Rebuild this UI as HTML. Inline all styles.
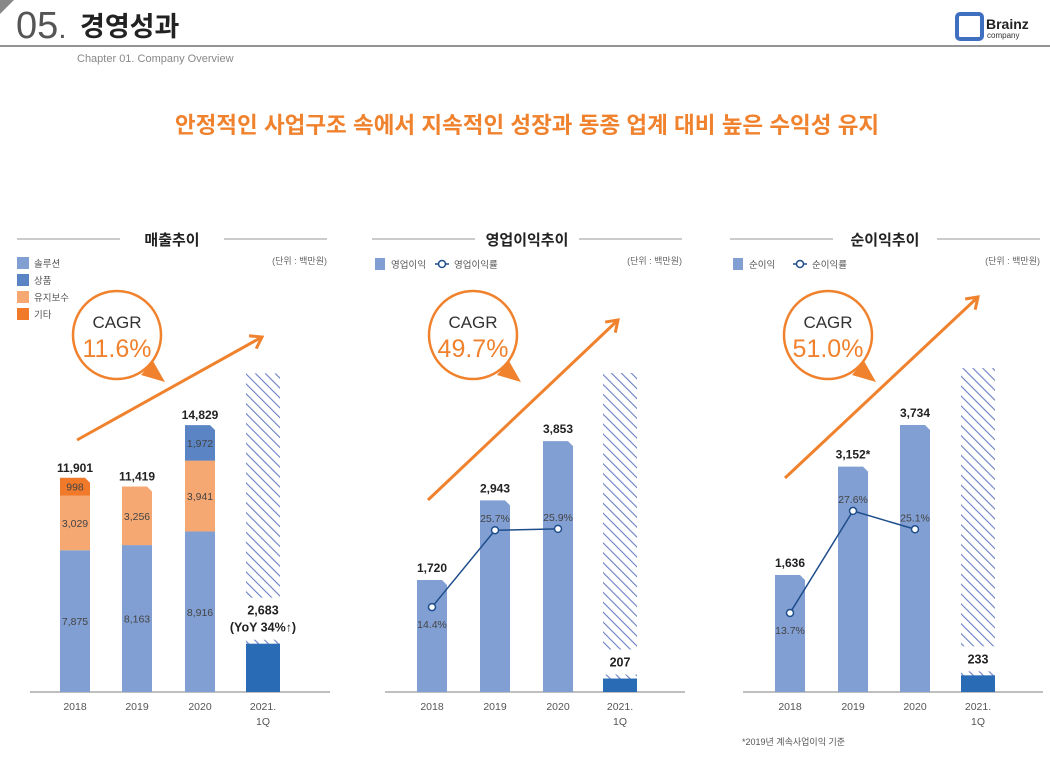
<!DOCTYPE html>
<html><head><meta charset="utf-8">
<style>
body{margin:0;background:#fff;width:1050px;height:762px;overflow:hidden;font-family:"Liberation Sans","Noto Sans CJK KR",sans-serif}
svg text{font-family:"Liberation Sans","Noto Sans CJK KR",sans-serif}
</style></head><body>
<svg id="s" width="1050" height="762" viewBox="0 0 1050 762" xmlns="http://www.w3.org/2000/svg">
<defs>
<pattern id="hatch" width="7" height="7" patternUnits="userSpaceOnUse" patternTransform="rotate(-45)">
<rect width="7" height="7" fill="#fff"/><line x1="0" y1="0" x2="0" y2="7" stroke="#6b7fc4" stroke-width="2.2"/>
</pattern>
</defs>
<polygon points="0,0 14,0 0,14" fill="#888"/>
<text x="16" y="38" font-size="38" fill="#555" font-weight="300">05<tspan font-size="30">.</tspan></text>
<text x="80" y="36" font-size="27" fill="#222" font-weight="bold">경영성과</text>
<line x1="0" y1="46" x2="1050" y2="46" stroke="#555" stroke-width="1.2"/>
<text x="77" y="62" font-size="11" fill="#888">Chapter 01. Company Overview</text>
<g>
<rect x="957" y="14" width="25" height="25" rx="3" fill="none" stroke="#3f6fc0" stroke-width="4"/>
<text x="986" y="29" font-size="14" font-weight="bold" fill="#222">Brainz</text>
<text x="987" y="38" font-size="8" fill="#333">company</text>
</g>
<text x="527" y="133" font-size="22.5" font-weight="bold" fill="#f0822e" text-anchor="middle">안정적인 사업구조 속에서 지속적인 성장과 동종 업계 대비 높은 수익성 유지</text>
<g id="c1"></g>
<g id="c2"></g>
<g id="c3"></g>
<text x="742" y="745" font-size="9" fill="#555">*2019년 계속사업이익 기준</text>
</svg>
<script>
const years=["2018","2019","2020","2021.|1Q"];
const revSolution=[7875,8163,8916];
const revProduct=[0,0,1972];
const revMaint=[3029,3256,3941];
const revOther=[998,0,0];
const revTotals=["11,901","11,419","14,829"];
const rev2021=2683, rev2021Target=17700;
const opProfit=[1720,2943,3853];
const opRate=[14.4,25.7,25.9];
const op2021=207, op2021Target=4900;
const netProfit=[1636,3152,3734];
const netRate=[13.7,27.6,25.1];
const net2021=233, net2021Target=4530;
const netLabels=["1,636","3,152*","3,734"];

const NS="http://www.w3.org/2000/svg";
function mk(p,tag,a,txt){const e=document.createElementNS(NS,tag);for(const k in a)e.setAttribute(k,a[k]);if(txt!==undefined)e.textContent=txt;p.appendChild(e);return e;}
const fmt=v=>v.toLocaleString("en-US");
const BASE=692;
const C_SOL="#819fd3",C_PROD="#5b84c4",C_MAINT="#f6a873",C_OTH="#f07a2a",C_Q="#2a6bb5",OR="#f0822e";

function frame(g,x0,x1,title){
  const cx=(x0+x1)/2;
  let e=mk(g,"line",{x1:x0,y1:239,x2:cx-52,y2:239,stroke:"#bbb","stroke-width":1.5});
  
  e=mk(g,"line",{x1:cx+52,y1:239,x2:x1,y2:239,stroke:"#bbb","stroke-width":1.5});
  
  e=mk(g,"text",{x:cx,y:245,"font-size":15,"font-weight":"bold",fill:"#222","text-anchor":"middle"},title);
  
  e=mk(g,"text",{x:x1,y:264,"font-size":9,fill:"#666","text-anchor":"end"},"(단위 : 백만원)");
  
  e=mk(g,"line",{x1:x0+13,y1:BASE,x2:x1+3,y2:BASE,stroke:"#999","stroke-width":1.2});
  
}
function xlabels(g,xs){
  years.forEach((y,i)=>{const parts=y.split("|");parts.forEach((p,j)=>{
    const e=mk(g,"text",{x:xs[i],y:710+j*15,"font-size":10.5,fill:"#555","text-anchor":"middle"},p);
    });});
}
function cagr(g,cx,cy,val){
  let e=mk(g,"circle",{cx:cx,cy:cy,r:44,fill:"#fff",stroke:OR,"stroke-width":2.5});
  
  e=mk(g,"polygon",{points:`${cx+36},${cy+26} ${cx+48},${cy+47} ${cx+24},${cy+40}`,fill:OR});
  
  e=mk(g,"text",{x:cx,y:cy-7,"font-size":17,fill:"#333","text-anchor":"middle"},"CAGR");
  
  e=mk(g,"text",{x:cx,y:cy+22,"font-size":25,fill:OR,"text-anchor":"middle"},val);
  
}
function arrow(g,x1,y1,x2,y2){
  let e=mk(g,"line",{x1:x1,y1:y1,x2:x2,y2:y2,stroke:OR,"stroke-width":3});
  
  const a=Math.atan2(y2-y1,x2-x1),L=13;
  const p=(d)=>[x2-L*Math.cos(a+d),y2-L*Math.sin(a+d)];
  const [ax,ay]=p(0.6),[bx,by]=p(-0.6);
  e=mk(g,"polyline",{points:`${ax},${ay} ${x2},${y2} ${bx},${by}`,fill:"none",stroke:OR,"stroke-width":3});
  
}
function bar(g,x,w,yTop,yBot,color,name,clip){
  const h=yBot-yTop;let e;
  if(clip){e=mk(g,"path",{d:`M${x},${yBot} V${yTop} H${x+w-5} L${x+w},${yTop+5} V${yBot} Z`,fill:color});}
  else e=mk(g,"rect",{x:x,y:yTop,width:w,height:h,fill:color});
  return e;
}
function q1(g,x,w,val,target,sc,name,labels){
  const yt=BASE-target*sc,yv=BASE-val*sc;
  let e=mk(g,"rect",{x:x,y:yt,width:w,height:BASE-yt,fill:"url(#hatch)"});
  
  const lblTop=yv-8-labels.length*17;
  e=mk(g,"rect",{x:x-8,y:lblTop-4,width:w+16,height:yv-4-lblTop+4,fill:"#fff"});
  
  bar(g,x,w,yv,BASE,C_Q,name,false);
  labels.forEach((t,i)=>{e=mk(g,"text",{x:x+w/2,y:lblTop+13+i*17,"font-size":12.5,"font-weight":"bold",fill:"#222","text-anchor":"middle"},t);
    });
}
function lbl(g,x,y,t,bold,name){const e=mk(g,"text",{x:x,y:y,"font-size":bold?12:10.5,"font-weight":bold?"bold":"normal",fill:bold?"#222":"#444","text-anchor":"middle"},t);
  }

/* Chart 1 */
(function(){
  const g=document.getElementById("c1");frame(g,17,327,"매출추이");
  const leg=[["솔루션",C_SOL],["상품",C_PROD],["유지보수",C_MAINT],["기타",C_OTH]];
  leg.forEach((l,i)=>{let e=mk(g,"rect",{x:17,y:257+i*17,width:12,height:12,fill:l[1]});
    
    e=mk(g,"text",{x:34,y:267+i*17,"font-size":9.5,fill:"#555"},l[0]);
    });
  const sc=0.018,xs=[60,122,185],w=30;
  arrow(g,77,440,262,337);
  cagr(g,117,335,"11.6%");
  xs.forEach((x,i)=>{
    let y=BASE;
    const segs=[[revSolution[i],C_SOL,'bar-solution'],[revMaint[i],C_MAINT,'bar-maintenance'],[revProduct[i],C_PROD,'bar-product'],[revOther[i],C_OTH,'bar-other']].filter(s=>s[0]>0);
    segs.forEach((s,j)=>{const top=y-s[0]*sc;bar(g,x,w,top,y,s[1],s[2]+'-'+years[i],j==segs.length-1);
      lbl(g,x+w/2,(top+y)/2+4,fmt(s[0]),false,'segment-value');y=top;});
    lbl(g,x+w/2,y-6,revTotals[i],true,'total-value');
  });
  q1(g,246,34,rev2021,rev2021Target,sc,'bar-2021-1q',["2,683","(YoY 34%↑)"]);
  xlabels(g,[75,137,200,263]);
})();
function profitChart(id,x0,x1,title,legA,legB,xs,qx,vals,labels,rates,rBase,rSc,v21,t21,sc,cg,cc,ar){
  const g=document.getElementById(id);frame(g,x0,x1,title);
  let e=mk(g,"rect",{x:x0+3,y:258,width:10,height:12,fill:C_SOL});
  
  e=mk(g,"text",{x:x0+19,y:268,"font-size":9.5,fill:"#555"},legA);
  
  e=mk(g,"line",{x1:x0+63,y1:264,x2:x0+77,y2:264,stroke:"#1f4e8c","stroke-width":1.5});
  
  e=mk(g,"circle",{cx:x0+70,cy:264,r:3.5,fill:"#fff",stroke:"#1f4e8c","stroke-width":1.5});
  
  e=mk(g,"text",{x:x0+82,y:268,"font-size":9.5,fill:"#555"},legB);
  
  arrow(g,ar[0],ar[1],ar[2],ar[3]);
  cagr(g,cc[0],cc[1],cg);
  const w=30;
  xs.forEach((x,i)=>{const top=BASE-vals[i]*sc;bar(g,x,w,top,BASE,C_SOL,'bar-'+years[i],true);
    lbl(g,x+w/2,top-8,labels[i],true,'bar-value');});
  q1(g,qx,34,v21,t21,sc,'bar-2021-1q',[fmt(v21)]);
  const pts=rates.map((r,i)=>[xs[i]+w/2,rBase-r*rSc]);
  e=mk(g,"polyline",{points:pts.map(p=>p.join(",")).join(" "),fill:"none",stroke:"#1f4e8c","stroke-width":1.5});
  
  pts.forEach((p,i)=>{e=mk(g,"circle",{cx:p[0],cy:p[1],r:3.5,fill:"#fff",stroke:"#1f4e8c","stroke-width":1.5});
    
    lbl(g,p[0],i==0?p[1]+21:p[1]-8,rates[i].toFixed(1)+"%",false,'margin-value');});
  xlabels(g,xs.map(x=>x+15).concat([qx+17]));
}
profitChart("c2",372,682,"영업이익추이","영업이익","영업이익률",[417,480,543],603,opProfit,opProfit.map(fmt),opRate,705,6.8,op2021,op2021Target,0.0651,"49.7%",[473,335],[428,500,618,320]);
profitChart("c3",730,1040,"순이익추이","순이익","순이익률",[775,838,900],961,netProfit,netLabels,netRate,713.5,7.34,net2021,net2021Target,0.0715,"51.0%",[828,335],[785,478,978,297]);
</script>
</body></html>
